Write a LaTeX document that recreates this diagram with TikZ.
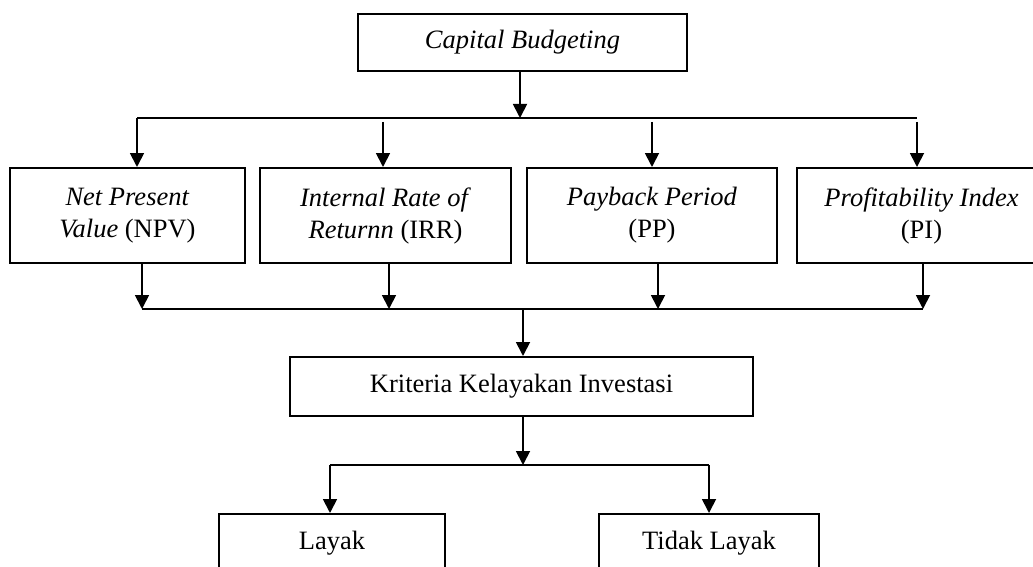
\documentclass[tikz,border=0pt]{standalone}
\usepackage{fontspec}
\setmainfont{Liberation Serif}
\usetikzlibrary{arrows.meta}
\tikzset{
  box/.style={draw=black, line width=2pt, fill=white, inner sep=0pt, align=center,
    font=\fontsize{26.5pt}{32pt}\selectfont},
  conn/.style={draw=black, line width=1.8pt},
  arr/.style={conn, -{Triangle[length=14pt,width=14pt]}}
}
\begin{document}
\begin{tikzpicture}[x=1pt,y=-1pt]
\useasboundingbox (0,0) rectangle (1033,567);
\clip (0,0) rectangle (1033,567);
% nodes
\node[box, minimum width=329pt, minimum height=57pt] (top) at (522.5,42.5) {\textit{Capital Budgeting}};
\node[box, minimum width=235pt, minimum height=95pt] (b1) at (127.5,215.5) {\textit{Net Present}\\\textit{Value} (NPV)};
\node[box, minimum width=251pt, minimum height=95pt] (b2) at (385.5,215.5) {\textit{Internal Rate of}\\\textit{Returnn} (IRR)};
\node[box, minimum width=250pt, minimum height=95pt] (b3) at (652,215.5) {\textit{Payback Period}\\(PP)};
\node[box, minimum width=249pt, minimum height=95pt] (b4) at (921.5,215.5) {\textit{Profitability Index}\\(PI)};
\node[box, minimum width=463pt, minimum height=59pt] (krit) at (521.5,386.5) {Kriteria Kelayakan Investasi};
\node[box, minimum width=226pt, minimum height=58pt] (layak) at (332,543) {Layak};
\node[box, minimum width=220pt, minimum height=58pt] (tidak) at (709,543) {Tidak Layak};
% bus coordinates
\coordinate (t0) at (520,118);
\coordinate (a1) at (137,118);
\coordinate (a2) at (383,118);
\coordinate (a3) at (652,118);
\coordinate (a4) at (917,118);
\coordinate (d1) at (142,309);
\coordinate (d2) at (389,309);
\coordinate (d3) at (658,309);
\coordinate (d4) at (923,309);
\coordinate (m2) at (523,309);
\coordinate (m3) at (523,465);
\coordinate (e1) at (330,465);
\coordinate (e2) at (709,465);
% connectors
\draw[arr] (top.south -| t0) -- (t0);
\draw[conn] (a1) -- (a4);
\draw[arr] (a1) -- (b1.north -| a1);
\draw[arr] ([yshift=-4pt]a2) -- (b2.north -| a2);
\draw[arr] ([yshift=-4pt]a3) -- (b3.north -| a3);
\draw[arr] ([yshift=-4pt]a4) -- (b4.north -| a4);
\draw[arr] (b1.south -| d1) -- (d1);
\draw[arr] (b2.south -| d2) -- (d2);
\draw[arr] (b3.south -| d3) -- (d3);
\draw[arr] (b4.south -| d4) -- (d4);
\draw[conn] (d1) -- (d4);
\draw[arr] (m2) -- (krit.north -| m2);
\draw[arr] (krit.south -| m3) -- (m3);
\draw[conn] (e1) -- (e2);
\draw[arr] (e1) -- (layak.north -| e1);
\draw[arr] (e2) -- (tidak.north -| e2);
\end{tikzpicture}
\end{document}
